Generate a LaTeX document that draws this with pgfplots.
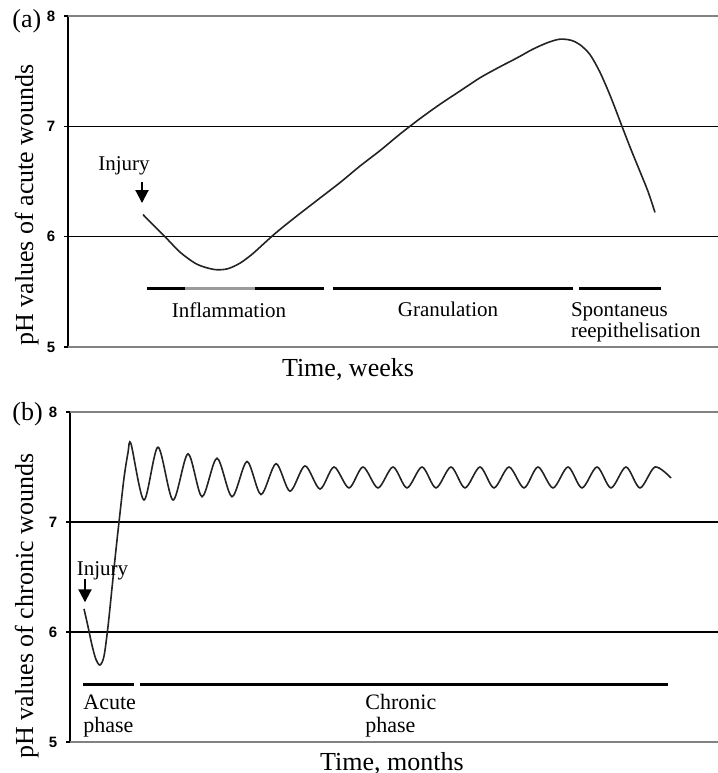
\documentclass[border=0pt]{standalone}
\usepackage{fontspec}
\setmainfont{Liberation Serif}
\setsansfont{Liberation Sans}
\usepackage{pgfplots}
\pgfplotsset{compat=1.18}
\usetikzlibrary{arrows.meta}

\definecolor{curve}{RGB}{35,35,35}
\definecolor{frame}{RGB}{130,130,130}

\pgfplotsset{
  wound/.style={
    scale only axis,
    axis lines*=left,
    x axis line style={draw=none},
    xtick=\empty,
    ymin=5, ymax=8,
    ytick={6,7},
    extra y ticks={5,8},
    ymajorgrids,
    grid style={black, line width=0.6pt},
    extra y tick style={grid style={frame, line width=0.6pt}},
    y axis line style={black, line width=0.6pt},
    tick style={black, line width=0.6pt},
    tick align=outside,
    major tick length=2pt,
    yticklabel={\pgfmathparse{int(round(\tick))}\pgfmathresult},
    yticklabel style={font=\sffamily\bfseries\fontsize{7.5}{8}\selectfont, xshift=-0.8pt},
    clip=false,
  },
  ph/.style={curve, line width=0.8pt, smooth, no marks},
  phase/.style={black, line width=1.5pt, no marks},
}

\begin{document}
\begin{tikzpicture}
\useasboundingbox (0,0) rectangle (359pt,-386.5pt);

% ---------------- (a) acute wounds ----------------
\begin{axis}[wound, at={(34pt,-8pt)}, anchor=north west,
  width=325pt, height=165.5pt, xmin=0, xmax=65]
  \addplot[ph] coordinates {
    (7.5,6.20) (8.7,6.09) (9.7,6.00) (11.2,5.86) (12.7,5.76) (13.8,5.72)
    (14.9,5.70) (16.0,5.71) (17.2,5.76) (18.4,5.84) (19.5,5.93) (20.6,6.02)
    (21.8,6.11) (23.2,6.21) (25.2,6.35) (27.2,6.49) (29.2,6.64) (31.2,6.78)
    (33.2,6.93) (35.2,7.07) (37.2,7.20) (39.2,7.32) (41.2,7.44) (43.2,7.54)
    (44.9,7.62) (46.5,7.70) (48.0,7.76) (49.2,7.79) (50.3,7.78) (51.2,7.74)
    (52.2,7.65) (53.2,7.49) (54.3,7.26) (55.4,7.00) (56.3,6.79) (57.2,6.59)
    (58.0,6.41) (58.7,6.22)
  };
  % healing phases
  \addplot[phase] coordinates {(7.9,5.526) (25.6,5.526)};
  \addplot[phase, color=frame!80] coordinates {(11.7,5.526) (18.7,5.526)};
  \addplot[phase] coordinates {(26.5,5.526) (50.5,5.526)};
  \addplot[phase] coordinates {(51.1,5.526) (59.3,5.526)};
  \begin{scope}[font=\fontsize{10.5}{12}\selectfont]
    \node[anchor=base] at (axis cs:16.1,5.263) {Inflammation};
    \node[anchor=base] at (axis cs:38.0,5.281) {Granulation};
    \node[anchor=base west] at (axis cs:49.6,5.281) {Spontaneus};
    \node[anchor=base west] at (axis cs:49.6,5.082) {reepithelisation};
    \node[anchor=base] at (axis cs:5.6,6.604) {Injury};
  \end{scope}
  \draw[black, line width=1pt, -{Triangle[width=6.5pt,length=6.5pt]}]
    (axis cs:7.4,6.495) -- (axis cs:7.4,6.305);
\end{axis}

% ---------------- (b) chronic wounds ----------------
\begin{axis}[wound, at={(35pt,-206pt)}, anchor=north west,
  width=324pt, height=165pt, xmin=0, xmax=64.8]
  \addplot[ph] coordinates {
    (1.4,6.21) (1.8,6.05) (2.2,5.88) (2.6,5.75) (3.0,5.70) (3.4,5.78)
    (3.8,6.05) (4.2,6.40) (4.6,6.75) (5.0,7.08) (5.4,7.40) (5.8,7.63)
    (6.1,7.71)
    (7.4,7.20) (8.8,7.68) (10.3,7.20) (11.8,7.62) (13.2,7.23) (14.7,7.58)
    (16.2,7.23) (17.7,7.55) (19.1,7.25) (20.6,7.53) (22.0,7.28) (23.5,7.51)
    (25.0,7.30) (26.4,7.50) (27.9,7.31) (29.3,7.50) (30.8,7.31) (32.3,7.50)
    (33.7,7.31) (35.2,7.50) (36.6,7.31) (38.1,7.50) (39.5,7.31) (41.0,7.50)
    (42.4,7.31) (43.9,7.50) (45.4,7.31) (46.8,7.50) (48.3,7.31) (49.8,7.50)
    (51.2,7.31) (52.7,7.50) (54.1,7.31) (55.6,7.50) (57.0,7.31) (58.5,7.50)
    (60.1,7.40)
  };
  \addplot[phase] coordinates {(1.3,5.527) (6.4,5.527)};
  \addplot[phase] coordinates {(7.0,5.527) (59.8,5.527)};
  \begin{scope}[font=\fontsize{11}{12}\selectfont]
    \node[anchor=base west, inner xsep=0pt] at (axis cs:1.3,5.30) {Acute};
    \node[anchor=base west, inner xsep=0pt] at (axis cs:1.3,5.09) {phase};
    \node[anchor=base west, inner xsep=0pt] at (axis cs:29.5,5.30) {Chronic};
    \node[anchor=base west, inner xsep=0pt] at (axis cs:29.5,5.09) {phase};
  \end{scope}
  \node[anchor=base, font=\fontsize{10.5}{12}\selectfont] at (axis cs:3.25,6.51) {Injury};
  \draw[black, line width=1pt, -{Triangle[width=6.5pt,length=6.5pt]}]
    (axis cs:1.5,6.48) -- (axis cs:1.5,6.27);
\end{axis}

% panel letters and axis titles
\begin{scope}[font=\fontsize{13}{15}\selectfont]
  \node[anchor=base west, inner xsep=0pt] at (6pt,-13.5pt) {(a)};
  \node[anchor=base west, inner xsep=0pt] at (6pt,-210pt) {(b)};
  \node[anchor=base] at (174pt,-188pt) {Time, weeks};
  \node[anchor=base] at (196pt,-385pt) {Time, months};
  \node[anchor=base, rotate=90] at (16.5pt,-102.5pt) {pH values of acute wounds};
  \node[anchor=base, rotate=90] at (16.5pt,-303pt) {pH values of chronic wounds};
\end{scope}
\end{tikzpicture}
\end{document}
